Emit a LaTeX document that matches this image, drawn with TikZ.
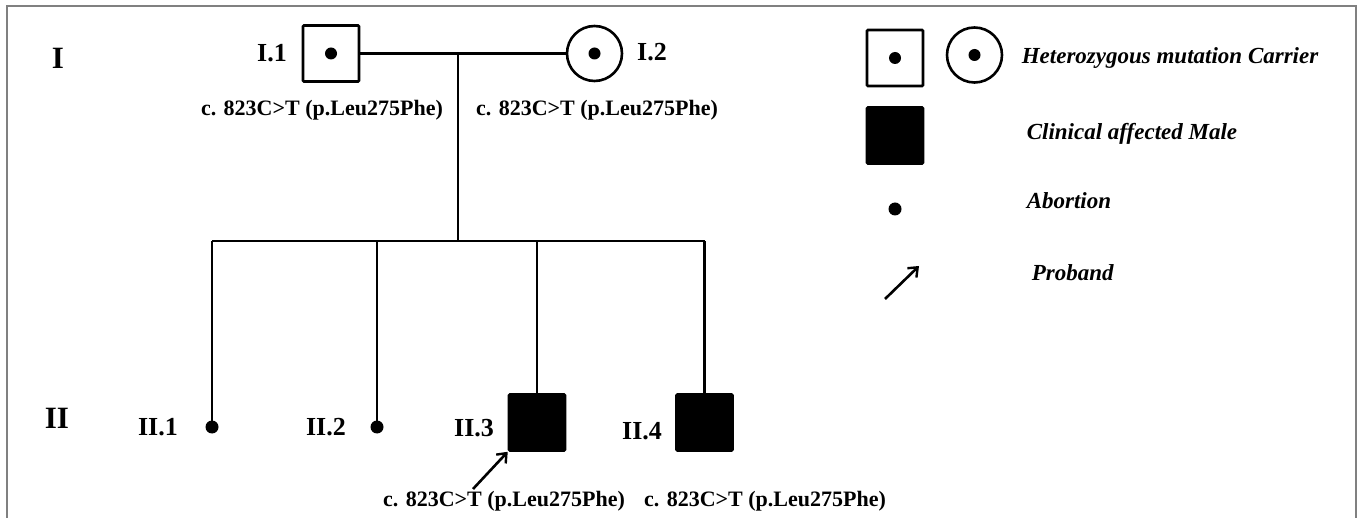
\documentclass[tikz,border=0pt]{standalone}
\usepackage{fontspec}
\setmainfont{Liberation Serif}
\usetikzlibrary{arrows.meta}
\begin{document}
\begin{tikzpicture}[x=1pt,y=-1pt,
  line width=2.9pt,
  male/.style={draw,rectangle,minimum size=56pt,inner sep=0pt,line width=2.6pt,rounded corners=1pt},
  female/.style={draw,circle,minimum size=55pt,inner sep=0pt,line width=2.6pt},
  affected/.style={male,fill=black},
  carrierdot/.style={circle,fill=black,minimum size=12pt,inner sep=0pt},
  abortdot/.style={circle,fill=black,minimum size=13pt,inner sep=0pt},
  gen/.style={font=\fontsize{31}{33}\selectfont\bfseries},
  idlabel/.style={font=\fontsize{26}{28}\selectfont\bfseries},
  variant/.style={font=\fontsize{22}{24}\selectfont\bfseries},
  legendtext/.style={anchor=west,font=\fontsize{23}{25}\selectfont\bfseries\itshape},
  proband/.style={-{Straight Barb[length=8pt,width=13pt,line width=2.4pt]},line width=2.6pt}
]
\useasboundingbox (0,0) rectangle (1360,518);
% outer frame (open at the bottom)
\draw[gray,line width=1.6pt] (7,518) -- (7,6) -- (1356,6) -- (1356,518);

% generation numerals
\node[gen] (genI) at (58,58) {I};
\node[gen] (genII) at (57,418) {II};

% generation I
\node[male] (i1) at (331,53.5) {};
\node[carrierdot] (i1d) at (i1.center) {};
\node[female] (i2) at (594.5,53.5) {};
\node[carrierdot] (i2d) at (i2.center) {};
\node[idlabel] (li1) at (272,53) {I.1};
\node[idlabel] (li2) at (652,52) {I.2};
\node[variant] (vi1) at (322,110) {c. 823C>T (p.Leu275Phe)};
\node[variant] (vi2) at (597,110) {c. 823C>T (p.Leu275Phe)};

% couple line and descent
\draw (i1.east) -- (i2.west);
\coordinate (mate) at (458,53.5);
\coordinate (sib) at (458,241);
\draw (mate) -- (sib);

% generation II
\node[abortdot] (ii1) at (212,427) {};
\node[abortdot] (ii2) at (377,427) {};
\node[affected] (ii3) at (537,422.5) {};
\node[affected] (ii4) at (704.5,422.5) {};
\coordinate (s1) at (212,241);
\coordinate (s2) at (377,241);
\coordinate (s3) at (537,241);
\coordinate (s4) at (704.5,241);
\draw (s1) -- (s4);
\draw (s1) -- (ii1.center);
\draw (s2) -- (ii2.center);
\draw (s3) -- (ii3.north);
\draw (s4) -- (ii4.north);
\node[idlabel] (lii1) at (158,427) {II.1};
\node[idlabel] (lii2) at (326,427) {II.2};
\node[idlabel] (lii3) at (474,428) {II.3};
\node[idlabel] (lii4) at (642,431) {II.4};
\node[variant] (vii3) at (504,501) {c. 823C>T (p.Leu275Phe)};
\node[variant] (vii4) at (765,501) {c. 823C>T (p.Leu275Phe)};

% proband arrow
\coordinate (pt) at (473,489);
\draw[proband] (pt) -- (ii3.south west);

% legend
\node[male] (lgm) at (895,58) {};
\node[carrierdot] (lgmd) at (lgm.center) {};
\node[female] (lgf) at (974.5,55) {};
\node[carrierdot] (lgfd) at (lgf.center) {};
\node[legendtext] (t1) at (1017,58) {Heterozygous mutation Carrier};
\node[legendtext] (t2) at (1022,134) {Clinical affected Male};
\node[affected] (lga) at (895,135.5) {};
\node[abortdot] (lgd) at (895,209) {};
\node[legendtext] (t3) at (1022,201) {Abortion};
\coordinate (la1) at (885,299);
\coordinate (la2) at (919,266);
\draw[proband] (la1) -- (la2);
\node[legendtext] (t4) at (1027,273) {Proband};
\end{tikzpicture}
\end{document}
